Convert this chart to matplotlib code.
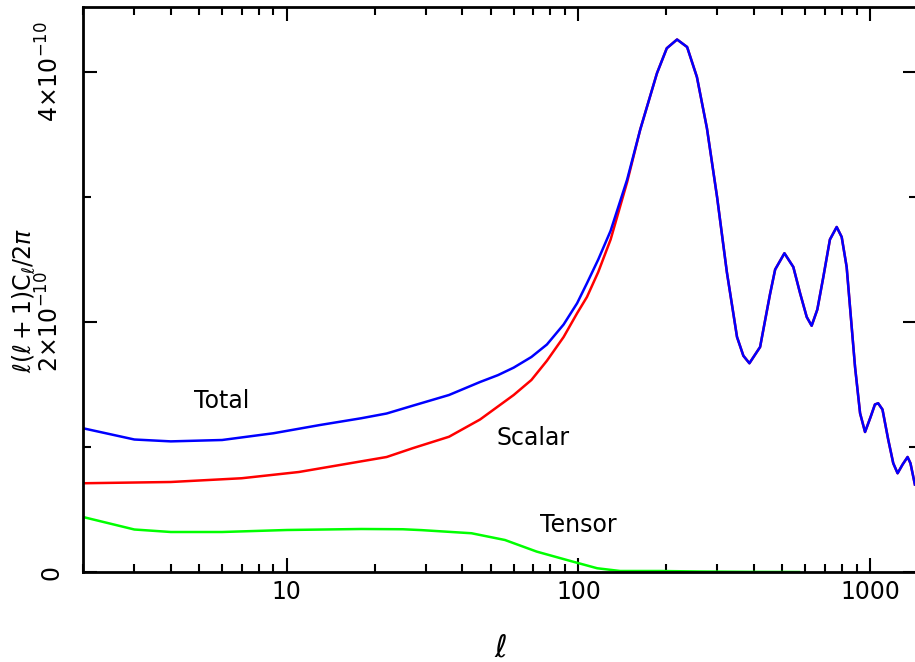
import matplotlib
matplotlib.use("Agg")
import matplotlib.pyplot as plt
from matplotlib.ticker import FixedLocator, LogLocator, NullFormatter

# multipole values and spectra, in units of 1e-10
ell_total = [2, 3, 4, 6, 9, 13, 18, 22, 27, 36,
             46, 53, 60, 69, 78, 89, 99, 107, 117, 129, 147,
             163, 186, 201, 218, 236, 255, 276, 299, 323, 350,
             368, 386, 420, 454, 473, 509, 546, 576, 607, 631,
             660, 692, 729, 769, 800, 832, 889, 925, 962, 1005,
             1040, 1067, 1104, 1155, 1202, 1244, 1294, 1346, 1377, 1426]
total = [1.15, 1.06, 1.045, 1.056, 1.11, 1.176, 1.23, 1.268, 1.33, 1.416,
         1.52, 1.575, 1.635, 1.72, 1.82, 1.98, 2.15, 2.31, 2.50, 2.73, 3.14,
         3.54, 3.99, 4.19, 4.26, 4.20, 3.96, 3.55, 3.00, 2.40, 1.88,
         1.73, 1.67, 1.80, 2.22, 2.42, 2.55, 2.44, 2.23, 2.04, 1.97,
         2.10, 2.36, 2.66, 2.76, 2.68, 2.44, 1.64, 1.27, 1.12, 1.24,
         1.34, 1.35, 1.30, 1.06, 0.87, 0.79, 0.86, 0.92, 0.87, 0.70]

ell_scalar = [2, 4, 7, 11, 22, 27, 36, 46, 60, 69,
              78, 89, 99, 107, 117, 129, 147,
              163, 186, 201, 218, 236, 255, 276, 299, 323, 350,
              368, 386, 420, 454, 473, 509, 546, 576, 607, 631,
              660, 692, 729, 769, 800, 832, 889, 925, 962, 1005,
              1040, 1067, 1104, 1155, 1202, 1244, 1294, 1346, 1377, 1426]
scalar = [0.71, 0.72, 0.75, 0.80, 0.92, 0.99, 1.082, 1.22, 1.416, 1.536,
          1.69, 1.88, 2.07, 2.20, 2.40, 2.66, 3.12,
          3.54, 3.99, 4.19, 4.26, 4.20, 3.96, 3.55, 3.00, 2.40, 1.88,
          1.73, 1.67, 1.80, 2.22, 2.42, 2.55, 2.44, 2.23, 2.04, 1.97,
          2.10, 2.36, 2.66, 2.76, 2.68, 2.44, 1.64, 1.27, 1.12, 1.24,
          1.34, 1.35, 1.30, 1.06, 0.87, 0.79, 0.86, 0.92, 0.87, 0.70]

ell_tensor = [2, 3, 4, 6, 10, 18, 25, 29, 43, 56,
              72, 94, 116, 139, 191, 260, 400, 571]
tensor = [0.44, 0.34, 0.32, 0.32, 0.336, 0.344, 0.342, 0.335, 0.31, 0.256,
          0.163, 0.088, 0.03, 0.008, 0.008, 0.004, 0.001, 0.0]

labels = ["Total", "Scalar", "Tensor"]
label_pos = [(6.0, 1.37e-10), (70.0, 1.07e-10), (100.0, 0.376e-10)]

fig = plt.figure(figsize=(9.15, 6.62), dpi=100)
ax = fig.add_axes([83 / 915, 1 - 572 / 662, 834 / 915, 565 / 662])

ax.plot(ell_scalar, [v * 1e-10 for v in scalar], color="#ff0000", lw=1.8)
ax.plot(ell_total, [v * 1e-10 for v in total], color="#0000ff", lw=1.8)
ax.plot(ell_tensor, [v * 1e-10 for v in tensor], color="#00ff00", lw=1.8)

for txt, (x, y) in zip(labels, label_pos):
    ax.text(x, y, txt, fontsize=17, ha="center", va="center")

ax.set_xscale("log")
ax.set_xlim(2, 1450)
ax.set_ylim(0, 4.52e-10)

ax.xaxis.set_major_locator(FixedLocator([10, 100, 1000]))
ax.set_xticklabels(["10", "100", "1000"])
ax.xaxis.set_minor_locator(LogLocator(base=10, subs=range(2, 10)))
ax.xaxis.set_minor_formatter(NullFormatter())

ax.yaxis.set_major_locator(FixedLocator([0, 2e-10, 4e-10]))
ax.set_yticklabels(["0", "2×10$^{-10}$", "4×10$^{-10}$"],
                   rotation=90, va="center")
ax.yaxis.set_minor_locator(FixedLocator([1e-10, 3e-10]))

ax.tick_params(which="both", direction="in", top=True, right=True,
               width=1.5, labelsize=17)
ax.tick_params(which="major", length=10)
ax.tick_params(which="minor", length=6)
ax.tick_params(axis="x", pad=6)
ax.tick_params(axis="y", pad=14)
for s in ax.spines.values():
    s.set_linewidth(2)

ax.set_ylabel(r"$\ell(\ell+1)\mathrm{C}_\ell/2\pi$", fontsize=17, va="center")
ax.yaxis.set_label_coords(-0.071, 0.48)
ax.set_xlabel(r"$\ell$", fontsize=22, va="center")
ax.xaxis.set_label_coords(0.501, -0.135)

fig.savefig("out.png", dpi=100)
